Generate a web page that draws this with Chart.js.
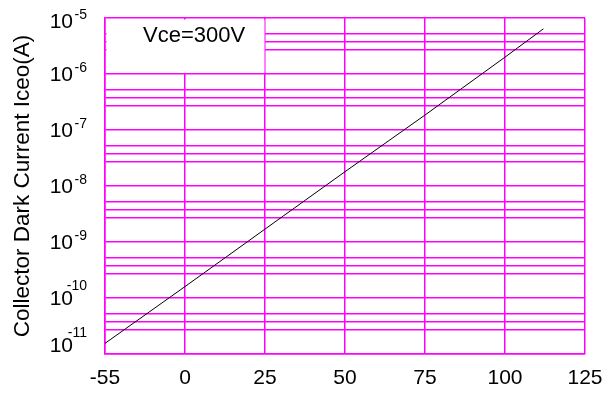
<!DOCTYPE html>
<html>
<head>
<meta charset="utf-8">
<script src="https://cdn.jsdelivr.net/npm/chart.js"></script>
<style>
  html, body { margin: 0; padding: 0; background: #fff; }
  #wrap { width: 616px; height: 397px; }
</style>
</head>
<body>
<div id="wrap"><canvas id="iceoChart" width="616" height="397"></canvas></div>
<script>
// x axis tick labels (temperature, evenly spaced on the sheet)
const xTickLabels = [-55, 0, 25, 50, 75, 100, 125];

// curve
const temps = [-55, 0, 25, 50, 75, 100, 112];
const iceo = [1.55e-11, 1.6e-10, 1.7e-9, 1.8e-8, 1.85e-7, 2.0e-6, 6.4e-6];

// y decades and the extra grid lines in each decade
const yDecades = [-11, -10, -9, -8, -7, -6, -5];
const yMinorFactors = [2.68, 3.73, 5.18];

const boxLabel = 'Vce=300V';
const yTitle = 'Collector Dark Current Iceo(A)';

const GRID = '#ff00ff';
const FONT = 'Arial, "Liberation Sans", sans-serif';

// the temperature axis is not linear: each tick is one equal step
function tempToAxis(t) {
    for (let i = 0; i < xTickLabels.length - 1; i++) {
        const a = xTickLabels[i], b = xTickLabels[i + 1];
        if (t <= b || i === xTickLabels.length - 2) {
            return i + (t - a) / (b - a);
        }
    }
}

const yGridValues = [];
yDecades.forEach((e, i) => {
    yGridValues.push(Math.pow(10, e));
    if (i < yDecades.length - 1) {
        yMinorFactors.forEach(f => yGridValues.push(f * Math.pow(10, e)));
    }
});

const points = temps.map((t, i) => ({ x: tempToAxis(t), y: iceo[i] }));

const decorPlugin = {
    id: 'decor',
    beforeDatasetsDraw(chart) {
        const ctx = chart.ctx;
        const xs = chart.scales.x;
        const ys = chart.scales.y;
        const area = chart.chartArea;
        // white box in the top-left corner
        const x1 = xs.getPixelForValue(tempToAxis(25));
        const y1 = ys.getPixelForValue(1e-6);
        ctx.save();
        ctx.fillStyle = '#fff';
        ctx.fillRect(area.left + 1.5, area.top + 1.5, x1 - area.left - 2, y1 - area.top - 2.5);
        ctx.fillStyle = '#000';
        ctx.font = '22px ' + FONT;
        ctx.textAlign = 'left';
        ctx.textBaseline = 'alphabetic';
        ctx.fillText(boxLabel, 143, 42);
        ctx.restore();
    },
    afterDraw(chart) {
        const ctx = chart.ctx;
        const ys = chart.scales.y;
        const area = chart.chartArea;
        ctx.save();
        ctx.fillStyle = '#000';
        yDecades.forEach(e => {
            let y = ys.getPixelForValue(Math.pow(10, e));
            // keep the end labels inside the plot height
            y = Math.min(Math.max(y, area.top + 3), area.bottom - 9);
            ctx.font = '21px ' + FONT;
            ctx.textAlign = 'right';
            ctx.textBaseline = 'middle';
            ctx.fillText('10', 73, y + 1);
            const exp = String(e);
            ctx.font = '14px ' + FONT;
            ctx.textBaseline = 'alphabetic';
            ctx.fillText(exp, 87, exp.length > 2 ? y - 8 : y - 2);
        });
        ctx.restore();
    }
};

new Chart(document.getElementById('iceoChart'), {
    type: 'line',
    data: {
        datasets: [{
            data: points,
            borderColor: '#000',
            borderWidth: 1,
            pointRadius: 0,
            fill: false,
            tension: 0
        }]
    },
    options: {
        responsive: false,
        animation: false,
        layout: { padding: { top: 18, right: 31, left: 0, bottom: 0 } },
        plugins: {
            legend: { display: false },
            tooltip: { enabled: false }
        },
        scales: {
            x: {
                type: 'linear',
                min: 0,
                max: xTickLabels.length - 1,
                afterBuildTicks(scale) {
                    scale.ticks = xTickLabels.map((v, i) => ({ value: i }));
                },
                afterFit(scale) { scale.height = 43; },
                ticks: {
                    color: '#000',
                    font: { size: 21, family: FONT },
                    padding: 12,
                    maxRotation: 0,
                    autoSkip: false,
                    callback: (v, i) => String(xTickLabels[i])
                },
                grid: { color: GRID, lineWidth: 1.5, drawTicks: false },
                border: { color: GRID, width: 1.5 }
            },
            y: {
                type: 'logarithmic',
                min: 1e-11,
                max: 1e-5,
                afterBuildTicks(scale) {
                    scale.ticks = yGridValues.map(v => ({ value: v }));
                },
                afterFit(scale) { scale.width = 105; },
                ticks: { display: false },
                grid: { color: GRID, lineWidth: 1.5, drawTicks: false },
                border: { color: GRID, width: 1.5 },
                title: {
                    display: true,
                    text: yTitle,
                    color: '#000',
                    font: { size: 22.5, family: FONT },
                    padding: { top: 9, bottom: 0 }
                }
            }
        }
    },
    plugins: [decorPlugin]
});
</script>
</body>
</html>
